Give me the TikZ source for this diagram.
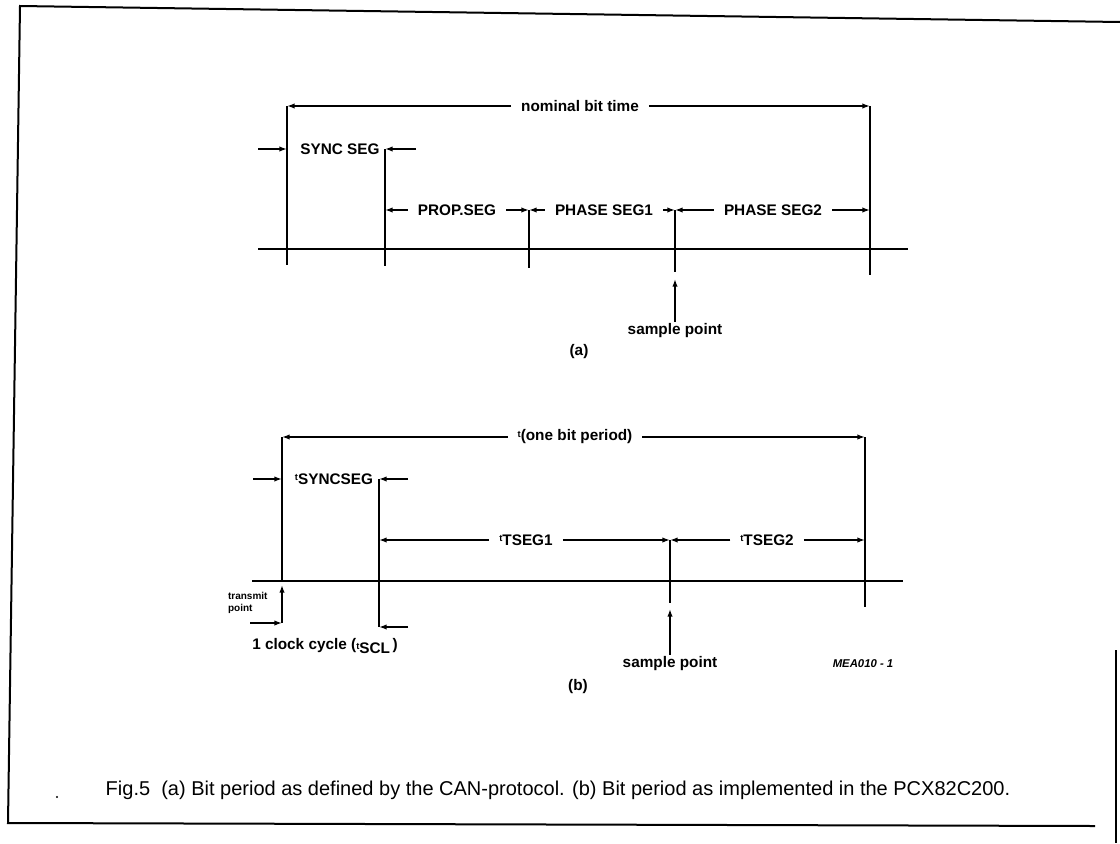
\documentclass[tikz,border=0pt]{standalone}
\usepackage{fontspec}
\setmainfont{Liberation Sans}
\usetikzlibrary{arrows.meta}

\tikzset{
  lbl/.style={font=\bfseries\fontsize{11.5}{13}\selectfont,inner sep=1pt},
  dim/.style={lbl,inner xsep=7pt},
  tick/.style={line width=1.3pt},
  axis/.style={line width=1.8pt},
  frame/.style={line width=1.5pt}
}
\newcommand{\tsub}[1]{{\scriptsize t}\raisebox{-2.5pt}{#1}}

\begin{document}
\begin{tikzpicture}[x=0.75pt,y=-0.75pt,>={Latex[length=2mm,width=1.4mm]},line width=1.1pt]
  \useasboundingbox (0,0) rectangle (1120,843);
  % outer frame
  \draw[frame] (1120,22) -- (20,6) -- (8,823) -- (1095,826);
  \draw[frame] (1116,650) -- (1116,843);

  % ---------- (a) ----------
  \coordinate (aL) at (258,249);
  \coordinate (aR) at (908,249);
  \draw[axis] (aL) -- (aR);
  \coordinate (a0t) at (287,106);
  \coordinate (a0b) at (287,265);
  \coordinate (a1t) at (385,149);
  \coordinate (a1b) at (385,266);
  \coordinate (a2t) at (529,210);
  \coordinate (a2b) at (529,268);
  \coordinate (a3t) at (675,210);
  \coordinate (a3b) at (675,272);
  \coordinate (a4t) at (870,106);
  \coordinate (a4b) at (870,275);
  \draw[tick] (a0t) -- (a0b);
  \draw[tick] (a1t) -- (a1b);
  \draw[tick] (a2t) -- (a2b);
  \draw[tick] (a3t) -- (a3b);
  \draw[tick] (a4t) -- (a4b);

  \node[dim] (nbt) at (580,106) {nominal bit time};
  \draw[->] (nbt.west) -- (a0t);
  \draw[->] (nbt.east) -- (a4t);

  \node[lbl] (sync) at (340,149) {SYNC SEG};
  \coordinate (syncL) at (258,149);
  \coordinate (syncR) at (416,149);
  \draw[->] (syncL) -- (a0t |- sync);
  \draw[->] (syncR) -- (a1t);

  \node[dim] (prop) at (457,210) {PROP.SEG};
  \draw[->] (prop.west) -- (a1t |- prop);
  \draw[->] (prop.east) -- (a2t);
  \node[dim] (ph1) at (604,210) {PHASE SEG1};
  \draw[->] (ph1.west) -- (a2t);
  \draw[->] (ph1.east) -- (a3t);
  \node[dim] (ph2) at (773,210) {PHASE SEG2};
  \draw[->] (ph2.west) -- (a3t);
  \draw[->] (ph2.east) -- (a4t |- ph2);

  \node[lbl] (spa) at (675,331) {sample point};
  \coordinate (spaT) at (675,279);
  \draw[->] (spa.north) -- (spaT);
  \node[lbl] (capa) at (579,352) {(a)};

  % ---------- (b) ----------
  \coordinate (bL) at (252,581);
  \coordinate (bR) at (903,581);
  \draw[axis] (bL) -- (bR);
  \coordinate (b0t) at (282,437);
  \coordinate (b0b) at (282,581);
  \coordinate (b1t) at (379,479);
  \coordinate (b1b) at (379,627);
  \coordinate (b2t) at (670,540);
  \coordinate (b2b) at (670,603);
  \coordinate (b3t) at (865,437);
  \coordinate (b3b) at (865,607);
  \draw[tick] (b0t) -- (b0b);
  \draw[tick] (b1t) -- (b1b);
  \draw[tick] (b2t) -- (b2b);
  \draw[tick] (b3t) -- (b3b);

  \node[dim] (obp) at (575,437) {\tsub{(one bit period)}};
  \draw[->] (obp.west) -- (b0t);
  \draw[->] (obp.east) -- (b3t);

  \node[lbl] (tsync) at (334,479) {\tsub{SYNCSEG}};
  \coordinate (tsyncL) at (253,479);
  \coordinate (tsyncR) at (408,479);
  \draw[->] (tsyncL) -- (b0t |- tsync);
  \draw[->] (tsyncR) -- (b1t);

  \node[dim] (ts1) at (526,540) {\tsub{TSEG1}};
  \draw[->] (ts1.west) -- (b1t |- ts1);
  \draw[->] (ts1.east) -- (b2t);
  \node[dim] (ts2) at (767,540) {\tsub{TSEG2}};
  \draw[->] (ts2.west) -- (b2t);
  \draw[->] (ts2.east) -- (b3t |- ts2);

  % transmit point and clock cycle
  \coordinate (tpC) at (282,623);
  \coordinate (tpT) at (282,585);
  \coordinate (tpL) at (250,623);
  \draw[->] (tpC) -- (tpT);
  \draw[->] (tpL) -- (tpC);
  \coordinate (clkR) at (408,627);
  \draw[->] (clkR) -- (b1b);
  \node[lbl,align=left,anchor=north west,font=\bfseries\fontsize{7.5}{9.5}\selectfont] (tp) at (226,590) {transmit\\point};
  \node[lbl] (clk) at (325,646) {1 clock cycle (\tsub{SCL}\,)};

  \node[lbl] (spb) at (670,664) {sample point};
  \coordinate (spbT) at (670,609);
  \draw[->] (spb.north) -- (spbT);
  \node[lbl,font=\bfseries\itshape\fontsize{8.5}{10}\selectfont] (code) at (863,664) {MEA010 - 1};
  \node[lbl] (capb) at (578,687) {(b)};

  % caption
  \node[inner sep=0pt,font=\fontsize{15}{17}\selectfont] (fig) at (558,790) {Fig.5\ \ (a) Bit period as defined by the CAN-protocol. (b) Bit period as implemented in the PCX82C200.};
  \fill (57,797) circle (1.2);
\end{tikzpicture}
\end{document}
